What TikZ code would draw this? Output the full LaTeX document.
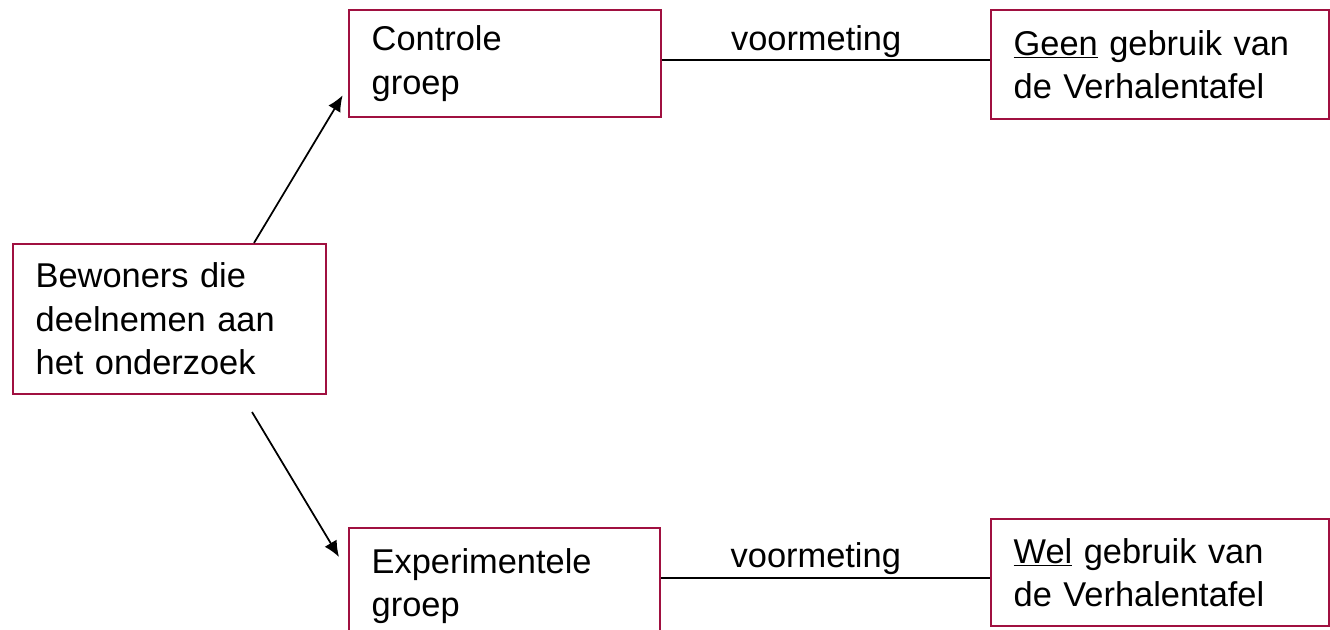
\documentclass[tikz,border=0pt]{standalone}
\usepackage{fontspec}
\setmainfont{Liberation Sans}
\usepackage{tikz}
\usetikzlibrary{arrows.meta}
\tikzset{>={Latex[width=10.5pt,length=12pt]}}
\definecolor{boxred}{RGB}{160,16,64}
\tikzset{grpbox/.style={draw=boxred, line width=1.5pt, anchor=north west, align=left, inner xsep=17pt, inner ysep=0pt}}

\begin{document}
\begin{tikzpicture}[x=0.75pt, y=-0.75pt]

  \fontsize{25.8}{32.5}\selectfont

  \clip (0,0) rectangle (1330,630);

  \node[grpbox, text width=200.75pt, minimum height=112.5pt] (bew) at (12,243) {Bewoners die\\deelnemen aan\\het onderzoek};
  \node[grpbox, text width=200pt, minimum height=80.25pt] (ctrl) at (348,9) {Controle\\groep};
  \node[grpbox, text width=199.5pt, minimum height=87pt] (expg) at (348,527) {Experimentele\\groep};
  \node[grpbox, text width=219.5pt, minimum height=81.75pt] (geen) at (990,9) {\underline{Geen} gebruik van\\de Verhalentafel};
  \node[grpbox, text width=219.5pt, minimum height=80.25pt] (wel) at (990,518) {\underline{Wel} gebruik van\\de Verhalentafel};

  \draw[->, line width=1.3pt] ([xshift=-54.75pt]bew.north east) -- ([xshift=-4pt, yshift=17pt]ctrl.south west); %% bew->ctrl
  \draw[->, line width=1.3pt] ([xshift=-56.25pt, yshift=-12.75pt]bew.south east) -- ([xshift=-6.75pt, yshift=-22.5pt]expg.north west); %% bew->expg

  \coordinate (mt) at ([yshift=2.5pt]ctrl.east);
  \draw[line width=1.3pt] (mt) -- node[pos=0.47, above, inner sep=0pt, yshift=1pt]{voormeting} (mt -| geen.west); % ctrl--geen
  \coordinate (mb) at ([yshift=6pt]expg.east);
  \draw[line width=1.3pt] (mb) -- node[pos=0.47, above, inner sep=2pt]{voormeting} (mb -| wel.west); % expg--wel

\end{tikzpicture}
\end{document}
